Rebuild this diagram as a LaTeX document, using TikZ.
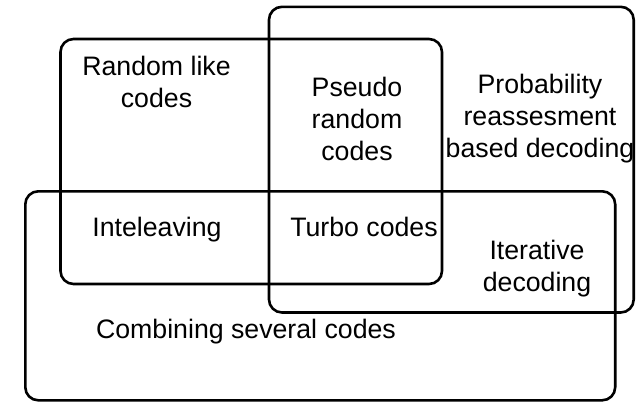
\documentclass[tikz,border=0pt]{standalone}
\usepackage{fontspec}
\setmainfont{Liberation Sans}
\begin{document}
\begin{tikzpicture}[x=1pt,y=1pt,
  setbox/.style={draw=black, line width=2.6pt, rounded corners=13pt, rectangle, inner sep=0pt},
  lbl/.style={font=\fontsize{26.7}{32}\selectfont, align=center, anchor=base, inner sep=0pt}]
\fill[white] (0,0) rectangle (637,-402);
\useasboundingbox (0,0) rectangle (637,-402);
% sets
\node[setbox, minimum width=381.5pt, minimum height=245pt] (rand) at (251.25,-161.5) {};
\node[setbox, minimum width=364.7pt, minimum height=305.7pt] (prob) at (451.35,-159.65) {};
\node[setbox, minimum width=589.9pt, minimum height=209pt] (comb) at (320.25,-295.8) {};
% labels (base anchor = baseline of last line)
\node[lbl] (trand) at (156.5,-107) {Random like\\codes};
\node[lbl] (tpseudo) at (357,-160) {Pseudo\\random\\codes};
\node[lbl] (tprob) at (540,-157) {Probability\\reassesment\\based decoding};
\node[lbl] (tinter) at (157,-236) {Inteleaving};
\node[lbl] (tturbo) at (364,-236) {Turbo codes};
\node[lbl] (titer) at (537,-291) {Iterative\\decoding};
\node[lbl] (tcomb) at (246,-338) {Combining several codes};
\end{tikzpicture}
\end{document}
